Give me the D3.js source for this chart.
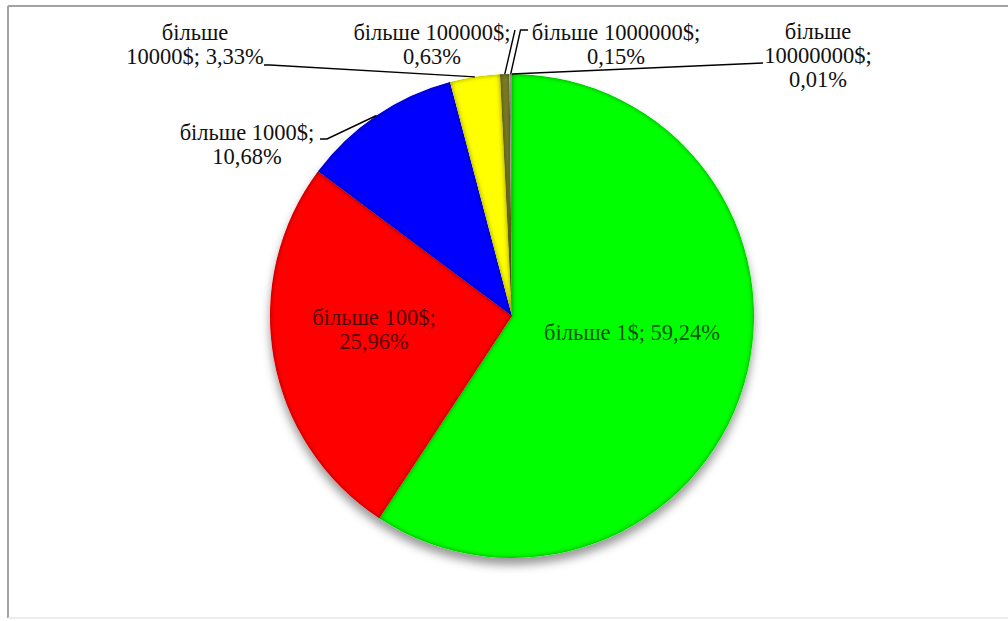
<!DOCTYPE html>
<html>
<head>
<meta charset="utf-8">
<script src="https://cdn.jsdelivr.net/npm/d3@7"></script>
<style>
  html, body { margin: 0; padding: 0; background: #fff; }
  svg { display: block; }
  text { font-family: "Liberation Serif", "Times New Roman", serif; font-size: 22.5px; }
</style>
</head>
<body>
<svg id="chart" width="1008" height="621"></svg>
<script>
// Distribution of balances by size band, share in percent
const categories = ["більше 1$", "більше 100$", "більше 1000$", "більше 10000$",
                    "більше 100000$", "більше 1000000$", "більше 10000000$"];
const shares = [59.24, 25.96, 10.68, 3.33, 0.63, 0.15, 0.01];
const sliceColors = ["#00ff00", "#ff0000", "#0000ff", "#ffff00", "#7c7f26", "#d8d8c8", "#9a9a9a"];

// Label placement: text centre, first baseline, how the text wraps, leader path
const labelLayout = [
  { x: 632, y: 340, wrap: "one",   inside: true },
  { x: 374, y: 325, wrap: "catpct", inside: true },
  { x: 247, y: 140, wrap: "catpct", leader: [[327, 139], [320, 139]] },
  { x: 195, y: 40,  wrap: "word",   leader: [[270, 65], [264, 65]] },
  { x: 432, y: 40,  wrap: "catpct", leader: [[515, 30]] },
  { x: 616, y: 40,  wrap: "catpct", leader: [[520.5, 30], [528, 30]] },
  { x: 818, y: 39,  wrap: "three",  leader: [[763, 63]] }
];

const svg = d3.select("#chart");
const W = 1008, H = 621;
const cx = 512, cy = 316, R = 242;
const lineGap = 24;

// chart frame
svg.append("line").attr("x1", 8).attr("y1", 6).attr("x2", W).attr("y2", 6)
  .attr("stroke", "#a3a3a3").attr("stroke-width", 2);
svg.append("line").attr("x1", 8).attr("y1", 6).attr("x2", 8).attr("y2", 618)
  .attr("stroke", "#a3a3a3").attr("stroke-width", 2);
svg.append("line").attr("x1", 8).attr("y1", 618).attr("x2", W).attr("y2", 618)
  .attr("stroke", "#e6e6e6").attr("stroke-width", 1.5);

const defs = svg.append("defs");

// soft drop shadow under the whole pie
const shadow = defs.append("filter").attr("id", "pieShadow")
  .attr("x", "-20%").attr("y", "-20%").attr("width", "140%").attr("height", "140%");
shadow.append("feGaussianBlur").attr("in", "SourceAlpha").attr("stdDeviation", 5).attr("result", "b");
shadow.append("feOffset").attr("in", "b").attr("dx", 0).attr("dy", 7).attr("result", "o");
shadow.append("feFlood").attr("flood-color", "#000").attr("flood-opacity", 0.4).attr("result", "f");
shadow.append("feComposite").attr("in", "f").attr("in2", "o").attr("operator", "in").attr("result", "s");
const sm = shadow.append("feMerge");
sm.append("feMergeNode").attr("in", "s");
sm.append("feMergeNode").attr("in", "SourceGraphic");

// rounded bevel: darkened rim just inside each slice's outline
const bevel = defs.append("filter").attr("id", "bevel")
  .attr("x", "-5%").attr("y", "-5%").attr("width", "110%").attr("height", "110%");
bevel.append("feGaussianBlur").attr("in", "SourceAlpha").attr("stdDeviation", 2.6).attr("result", "blur");
bevel.append("feComposite").attr("in", "SourceAlpha").attr("in2", "blur")
  .attr("operator", "arithmetic").attr("k2", 1).attr("k3", -1).attr("result", "edge");
bevel.append("feFlood").attr("flood-color", "#000").attr("flood-opacity", 0.9).attr("result", "dark");
bevel.append("feComposite").attr("in", "dark").attr("in2", "edge").attr("operator", "in").attr("result", "shade");
const bm = bevel.append("feMerge");
bm.append("feMergeNode").attr("in", "SourceGraphic");
bm.append("feMergeNode").attr("in", "shade");

const data = categories.map((c, i) => ({ cat: c, value: shares[i], color: sliceColors[i], layout: labelLayout[i] }));

const pie = d3.pie().sort(null).value(d => d.value).startAngle(0).endAngle(2 * Math.PI);
const arcs = pie(data);
const arc = d3.arc().innerRadius(0).outerRadius(R);

const pieG = svg.append("g").attr("transform", `translate(${cx},${cy})`).attr("filter", "url(#pieShadow)");
pieG.selectAll("path.slice").data(arcs).join("path")
  .attr("class", "slice")
  .attr("d", arc)
  .attr("fill", d => d.data.color)
  .attr("filter", "url(#bevel)");

// leader lines from slice rim to its label
const rimPoint = d => {
  const a = (d.startAngle + d.endAngle) / 2;
  return [cx + R * Math.sin(a), cy - R * Math.cos(a)];
};
const line = d3.line();
svg.selectAll("path.leader").data(arcs.filter(d => d.data.layout.leader)).join("path")
  .attr("class", "leader")
  .attr("d", d => line([rimPoint(d)].concat(d.data.layout.leader)))
  .attr("fill", "none").attr("stroke", "#000").attr("stroke-width", 1.4);

// labels
const fmt = v => d3.format(".2f")(v).replace(".", ",") + "%";
const labelLines = d => {
  const pct = fmt(d.value);
  const [w, rest] = d.cat.split(" ");
  switch (d.layout.wrap) {
    case "one": return [`${d.cat}; ${pct}`];
    case "catpct": return [`${d.cat};`, pct];
    case "word": return [w, `${rest}; ${pct}`];
    case "three": return [w, `${rest};`, pct];
  }
};
const labels = svg.selectAll("text.lbl").data(data).join("text")
  .attr("class", "lbl")
  .attr("text-anchor", "middle")
  .attr("fill", d => d.layout.inside ? "rgba(0,0,0,0.7)" : "#111");
labels.each(function (d) {
  const t = d3.select(this);
  labelLines(d).forEach((s, i) => {
    t.append("tspan").attr("x", d.layout.x).attr("y", d.layout.y + i * lineGap).text(s);
  });
});
</script>
</body>
</html>
